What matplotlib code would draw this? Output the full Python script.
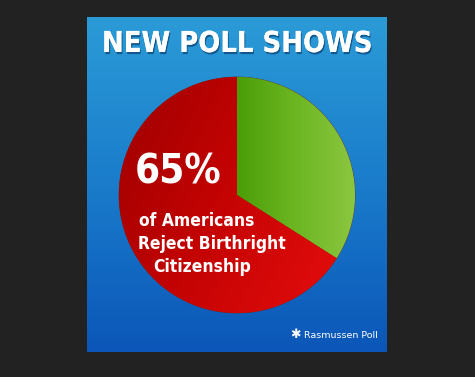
import numpy as np
import matplotlib
matplotlib.use("Agg")
import matplotlib.pyplot as plt
from matplotlib.colors import LinearSegmentedColormap
from matplotlib.patches import Rectangle
import matplotlib.patheffects as pe

# ---- data ----
categories = ["Accept", "Reject"]
shares = [34, 66]
title = "NEW POLL SHOWS"
headline = "65%"
sub_lines = ["of Americans", "Reject Birthright", "Citizenship"]
source = "Rasmussen Poll"

W, H = 475, 377
fig = plt.figure(figsize=(W / 100, H / 100), dpi=100)
fig.patch.set_facecolor("#222222")
ax = fig.add_axes([0, 0, 1, 1])
ax.set_facecolor("#222222")

def Y(py):
    return H - py

px0, px1, py0, py1 = 87, 387, 17, 352
blue = LinearSegmentedColormap.from_list("b", ["#2b9bd7", "#1a7ccb", "#0b56b8"])
grad = np.linspace(0, 1, 256).reshape(-1, 1)
panel = Rectangle((px0, Y(py1)), px1 - px0, py1 - py0, transform=ax.transData,
                  facecolor="none", edgecolor="none")
ax.add_patch(panel)
im = ax.imshow(grad, cmap=blue, extent=(px0, px1, Y(py1), Y(py0)), origin="upper",
               aspect="auto", zorder=1)
im.set_clip_path(panel)

cx, cy, r = 237, Y(195), 118
wedges, _ = ax.pie(shares, colors=["#6ab520", "#cc0808"], startangle=90,
                   counterclock=False, center=(cx, cy), radius=r,
                   wedgeprops=dict(linewidth=0.5, edgecolor="#6a2a20"))
for w in wedges:
    w.set_zorder(2)

green_cm = LinearSegmentedColormap.from_list("g", ["#4b9e08", "#6cb622", "#8cc640"])
red_cm = LinearSegmentedColormap.from_list("r", ["#9e0000", "#c40303", "#e20c0c"])
hgrad = np.linspace(0, 1, 256).reshape(1, -1)
g_im = ax.imshow(hgrad, cmap=green_cm, extent=(cx, cx + r, cy - r, cy + r),
                 aspect="auto", zorder=3)
g_im.set_clip_path(wedges[0])
xx, yy = np.meshgrid(np.linspace(0, 1, 256), np.linspace(0, 1, 256))
dgrad = np.clip(0.75 * xx + 0.35 * yy, 0, 1)
r_im = ax.imshow(dgrad, cmap=red_cm, extent=(cx - r, cx + r, cy - r, cy + r),
                 aspect="auto", origin="upper", zorder=3)
r_im.set_clip_path(wedges[1])

ax.set_xlim(0, W)
ax.set_ylim(0, H)
ax.set_aspect("auto")
ax.axis("off")

shadow = [pe.withSimplePatchShadow(offset=(0.8, -1.5), shadow_rgbFace="#06305e", alpha=0.6), pe.Normal()]
font = dict(family="DejaVu Sans", fontweight="bold", fontstretch="condensed", color="white", zorder=5)

ax.text(237, Y(44), title, ha="center", va="center", fontsize=20.8,
        path_effects=shadow, **font)

ax.text(178, Y(172), headline, ha="center", va="center", fontsize=29, **font)

line_x = [197, 212, 202]
line_y = [221, 244, 267]
for s, lx, ly in zip(sub_lines, line_x, line_y):
    ax.text(lx, Y(ly), s, ha="center", va="center", fontsize=12.5, **font)

ax.text(295, Y(335), "\u2731", ha="center", va="center", color="white",
        fontsize=9, family="DejaVu Sans", zorder=5)
ax.text(304, Y(335), source, ha="left", va="center", color="white",
        fontsize=6.8, family="DejaVu Sans", zorder=5)

fig.savefig("out.png", dpi=100, facecolor=fig.get_facecolor())
